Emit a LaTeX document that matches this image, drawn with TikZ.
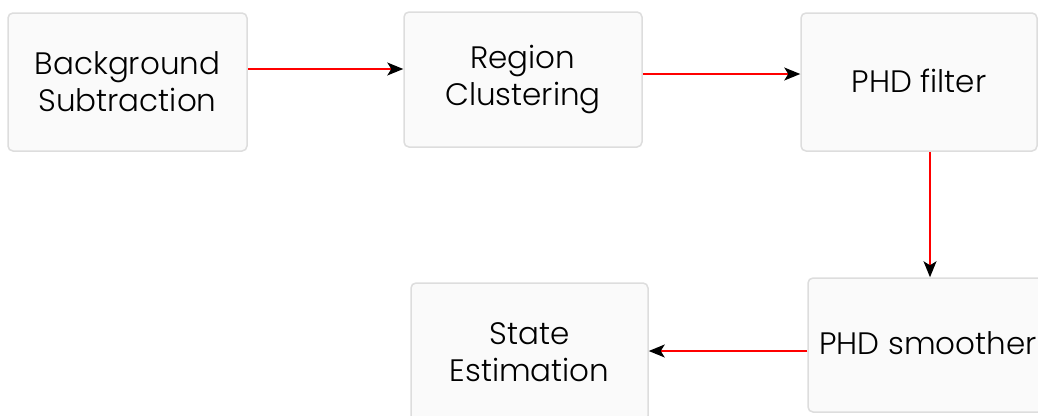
\documentclass[tikz,border=0pt]{standalone}
\usepackage{fontspec}
\setmainfont{Poppins Light}
\usetikzlibrary{arrows.meta}
\definecolor{boxfill}{HTML}{FAFAFA}
\definecolor{boxline}{HTML}{DDDDDD}
\tikzset{
  stage/.style={draw=boxline, fill=boxfill, line width=1.5pt, rounded corners=5pt,
    align=center, inner sep=0pt, text=black,
    font=\fontsize{31}{37}\selectfont},
  flow/.style={draw=red, line width=1.3pt,
    -{Stealth[length=16pt,width=13pt,inset=4pt,color=black]}}
}
\begin{document}
\begin{tikzpicture}[x=1pt,y=-1pt]
  \useasboundingbox (0,0) rectangle (1038,415);
  \clip (0,0) rectangle (1038,415);
  % processing stages
  \node[stage, minimum width=239pt, minimum height=138pt] (bg)  at (127.5,82) {Background\\Subtraction};
  \node[stage, minimum width=238pt, minimum height=135pt] (rc)  at (523,79.5) {\raisebox{3pt}{\shortstack{Region\\[2pt]Clustering}}};
  \node[stage, minimum width=236pt, minimum height=138pt] (phd) at (919,82)   {\raisebox{3pt}{PHD filter}};
  \node[stage, minimum width=240pt, minimum height=134pt] (sm)  at (928,345)  {\raisebox{3pt}{PHD smoother}};
  \node[stage, minimum width=237pt, minimum height=138pt] (se)  at (529.5,352) {State\\Estimation};
  % data flow
  \draw[flow] ([yshift=13pt]bg.east) -- ([yshift=13pt]bg.east -| rc.west);
  \draw[flow] ([yshift=5.5pt]rc.east) -- ([yshift=5.5pt]rc.east -| phd.west);
  \draw[flow] ([xshift=11pt]phd.south) -- ([xshift=11pt]phd.south |- sm.north);
  \draw[flow] ([yshift=-6pt]sm.west) -- ([yshift=-6pt]sm.west -| se.east);
\end{tikzpicture}
\end{document}
